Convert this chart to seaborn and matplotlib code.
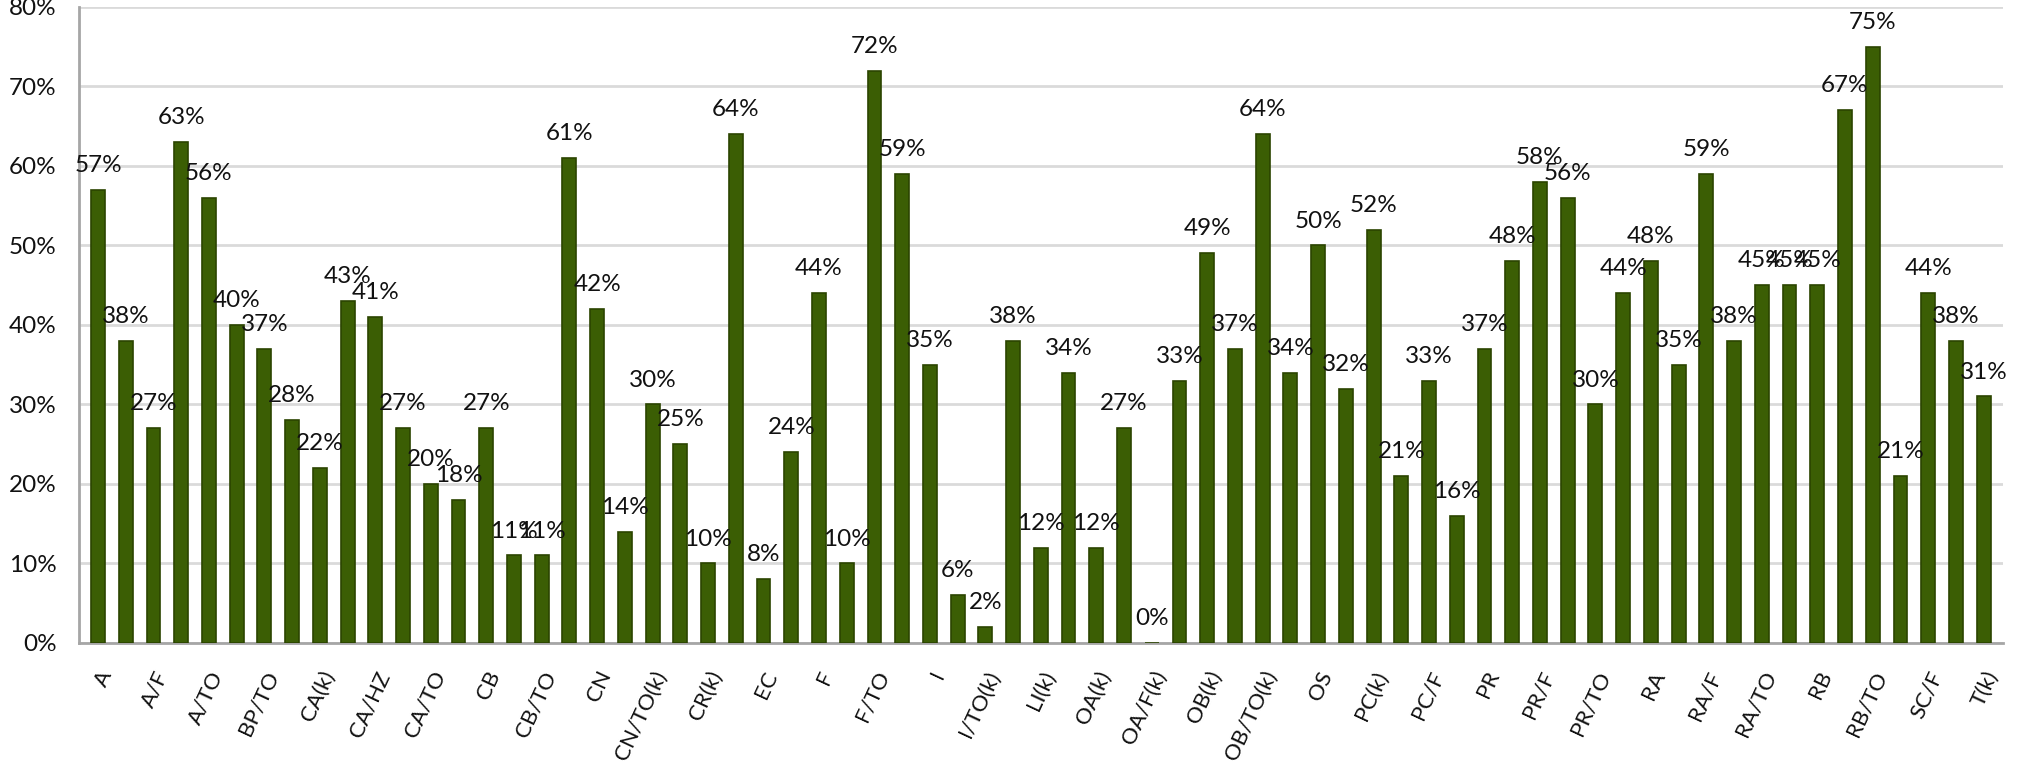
import matplotlib
matplotlib.use("Agg")
import matplotlib.pyplot as plt
import seaborn as sns
import numpy as np
import pandas as pd
from matplotlib.ticker import FuncFormatter

# Share (%) for each of the 69 categories, left to right
shares = [57, 38, 27, 63, 56, 40, 37, 28, 22, 43,
          41, 27, 20, 18, 27, 11, 11, 61, 42, 14,
          30, 25, 10, 64, 8, 24, 44, 10, 72, 59,
          35, 6, 2, 38, 12, 34, 12, 27, 0, 33,
          49, 37, 64, 34, 50, 32, 52, 21, 33, 16,
          37, 48, 58, 56, 30, 44, 48, 35, 59, 38,
          45, 45, 45, 67, 75, 21, 44, 38, 31]

# Axis labels, shown on every second bar
axis_labels = ["A", "A/F", "A/TO", "BP/TO", "CA(k)", "CA/HZ", "CA/TO", "CB",
               "CB/TO", "CN", "CN/TO(k)", "CR(k)", "EC", "F", "F/TO", "I",
               "I/TO(k)", "LI(k)", "OA(k)", "OA/F(k)", "OB(k)", "OB/TO(k)", "OS",
               "PC(k)", "PC/F", "PR", "PR/F", "PR/TO", "RA", "RA/F", "RA/TO",
               "RB", "RB/TO", "SC/F", "T(k)"]

y_ticks = [0, 10, 20, 30, 40, 50, 60, 70, 80]

sns.set_theme(style="white")
plt.rcParams["font.family"] = ["Lato", "DejaVu Sans"]

df = pd.DataFrame({"pos": np.arange(len(shares)), "share": shares})

fig = plt.figure(figsize=(20.23, 7.7), dpi=100)
ax = fig.add_axes([0.039, 0.165, 0.951, 0.826])

sns.barplot(data=df, x="pos", y="share", color="#3b5e04", saturation=1,
            width=0.5, edgecolor="#2b4400", linewidth=1.2, ax=ax, zorder=3)

ax.bar_label(ax.containers[0], labels=[f"{v}%" for v in shares],
             padding=10, fontsize=17.5, color="#111111", zorder=4)

ax.set_ylim(0, 80)
ax.set_xlim(-0.69, len(shares) - 1 + 0.69)
ax.set_yticks(y_ticks)
ax.yaxis.set_major_formatter(FuncFormatter(lambda v, _: f"{v:.0f}%"))
ax.grid(axis="y", color="#dadada", linewidth=2, zorder=0)
ax.grid(axis="x", visible=False)

ax.set_xticks(np.arange(0, len(shares), 2))
ax.set_xticklabels(axis_labels, rotation=65, ha="right", rotation_mode="anchor",
                   fontsize=16, color="#111111")
ax.tick_params(axis="x", length=0, pad=18)
ax.tick_params(axis="y", length=0, pad=16, labelsize=17.5, labelcolor="#111111")
ax.set_xlabel("")
ax.set_ylabel("")

for side in ["top", "right"]:
    ax.spines[side].set_visible(False)
for side in ["left", "bottom"]:
    ax.spines[side].set_color("#a6a6a6")
    ax.spines[side].set_linewidth(2)

fig.savefig("out.png", dpi=100)
